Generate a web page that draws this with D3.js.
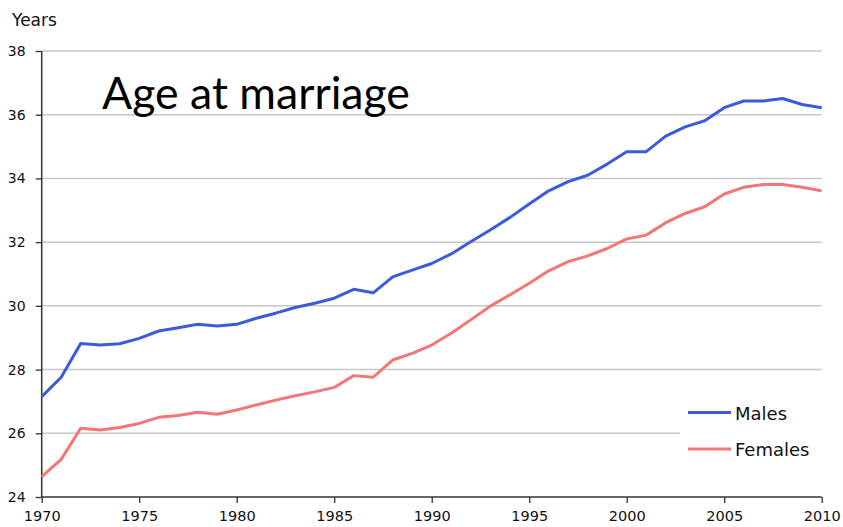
<!DOCTYPE html>
<html><head><meta charset="utf-8">
<script src="https://cdn.jsdelivr.net/npm/d3@7"></script>
<style>body{margin:0;background:#fff}svg{display:block}</style>
</head><body>
<svg id="c" width="843" height="527"></svg>
<script>
const years = d3.range(1970, 2011);
const males = [27.15,27.76,28.82,28.77,28.81,28.98,29.21,29.31,29.42,29.37,29.42,29.61,29.77,29.95,30.08,30.24,30.52,30.41,30.91,31.12,31.33,31.63,32.01,32.38,32.77,33.2,33.61,33.9,34.1,34.45,34.84,34.84,35.33,35.62,35.81,36.22,36.43,36.43,36.51,36.32,36.22];
const females = [24.64,25.18,26.16,26.1,26.18,26.31,26.5,26.56,26.66,26.6,26.73,26.89,27.04,27.18,27.3,27.44,27.81,27.76,28.3,28.51,28.77,29.14,29.56,29.99,30.34,30.71,31.1,31.39,31.57,31.8,32.1,32.22,32.61,32.9,33.11,33.51,33.72,33.81,33.81,33.72,33.61];
const yTicks = [24,26,28,30,32,34,36,38];
const xTicks = [1970,1975,1980,1985,1990,1995,2000,2005,2010];
const seriesNames = ["Males","Females"];
const colors = ["#3b5bd8","#f27676"];
const title = "Age at marriage";
const yLabel = "Years";

const svg = d3.select("#c");
const x = d3.scaleLinear().domain([1970,2010]).range([41.7,821.7]);
const y = d3.scaleLinear().domain([24,38]).range([497,51]);
const font = "'DejaVu Sans', Verdana, sans-serif";

// gridlines
svg.append("g").selectAll("line").data(yTicks.filter(t=>t>24)).join("line")
  .attr("x1", x(1970)).attr("x2", x(2010))
  .attr("y1", d=>y(d)).attr("y2", d=>y(d))
  .attr("stroke","#c6c6c6").attr("stroke-width",1.5);

// y axis
const ya = svg.append("g").attr("transform",`translate(${x(1970)},0)`)
  .call(d3.axisLeft(y).tickValues(yTicks).tickSize(6).tickPadding(10).tickFormat(d3.format("d")));
ya.select(".domain").attr("stroke","#333").attr("stroke-width",1.5).attr("d",`M0,${y(24)}V${y(38)}`);
ya.selectAll(".tick line").attr("stroke","#333").attr("stroke-width",1.3);
ya.selectAll("text").attr("font-family",font).attr("font-size",14).attr("fill","#111");

// x axis
const xa = svg.append("g").attr("transform",`translate(0,${y(24)})`)
  .call(d3.axisBottom(x).tickValues(xTicks).tickSize(6).tickPadding(8).tickFormat(d3.format("d")));
xa.select(".domain").attr("stroke","#333").attr("stroke-width",1.5).attr("d",`M${x(1970)},0H${x(2010)}`);
xa.selectAll(".tick line").attr("stroke","#333").attr("stroke-width",1.3);
xa.selectAll("text").attr("font-family",font).attr("font-size",14.5).attr("fill","#111");

// lines
const line = d3.line().x((d,i)=>x(years[i])).y(d=>y(d));
[males,females].forEach((s,i)=>{
  svg.append("path").datum(s).attr("d",line).attr("fill","none")
    .attr("stroke",colors[i]).attr("stroke-width",3).attr("stroke-linejoin","round");
});

// legend
const lg = svg.append("g");
lg.append("rect").attr("x",680).attr("y",398).attr("width",150).attr("height",70).attr("fill","#fff");
seriesNames.forEach((n,i)=>{
  const yy = 412.5 + i*36.5;
  lg.append("line").attr("x1",688).attr("x2",731).attr("y1",yy).attr("y2",yy)
    .attr("stroke",colors[i]).attr("stroke-width",3);
  lg.append("text").attr("x",735).attr("y",yy+7).text(n)
    .attr("font-family",font).attr("font-size",18).attr("fill","#111");
});

// y label
svg.append("text").attr("x",12).attr("y",26).text(yLabel)
  .attr("font-family",font).attr("font-size",17).attr("fill","#111");

// title
const t = svg.append("text").attr("x",102).attr("y",109).text(title)
  .attr("font-family","Lato, 'Open Sans', sans-serif").attr("font-size",42).attr("fill","#000");
const w = t.node().getComputedTextLength();
t.attr("font-size", 42*308/w);
</script>
</body></html>
